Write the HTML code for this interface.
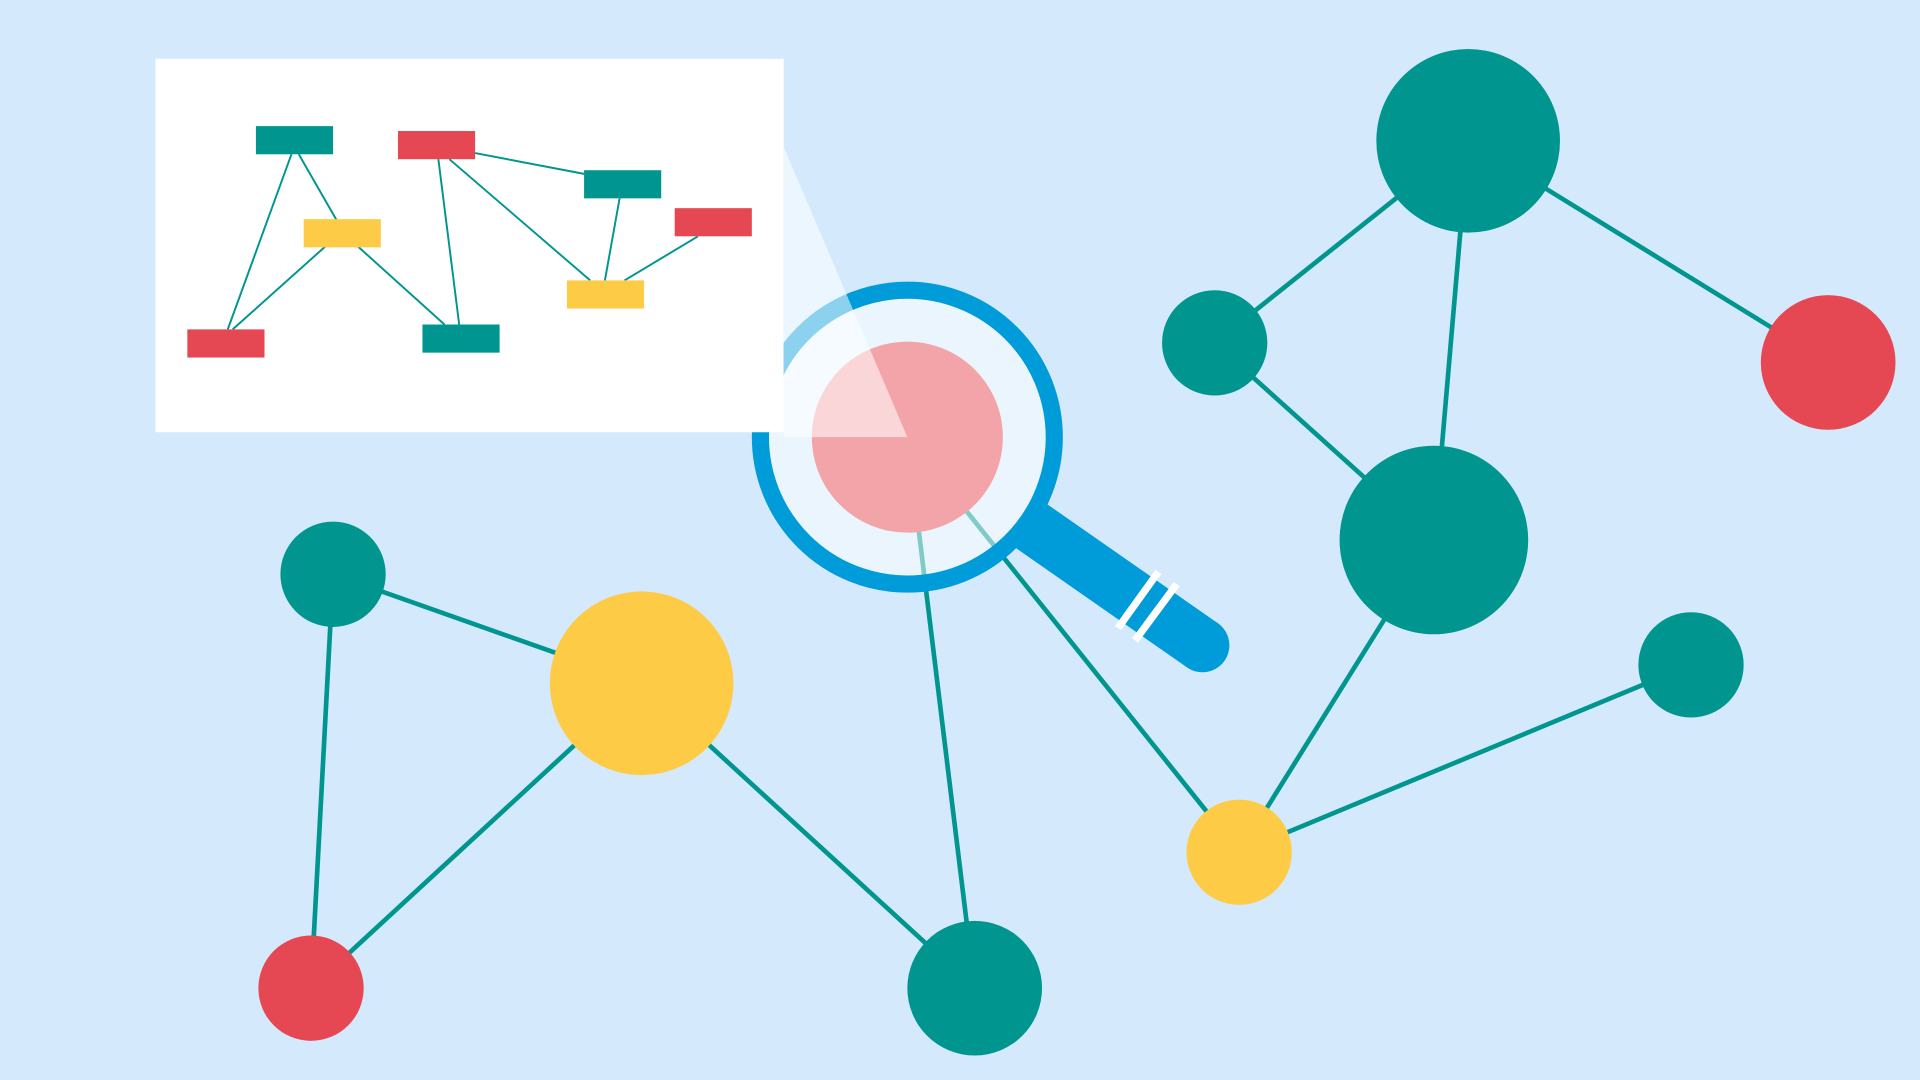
<!DOCTYPE html>
<html><head><meta charset="utf-8"><style>html,body{margin:0;padding:0;background:#d4eafc;}svg{display:block}</style></head>
<body>
<svg width="1920" height="1080" viewBox="0 0 1568 882" preserveAspectRatio="none" xmlns="http://www.w3.org/2000/svg">
<rect width="1568" height="882" fill="#d4eafc"/>
<g stroke="#00968f" stroke-width="3.8">
<line x1="1199" y1="115" x2="992" y2="280"/>
<line x1="1199" y1="115" x2="1493" y2="296"/>
<line x1="1199" y1="115" x2="1171" y2="441"/>
<line x1="992" y1="280" x2="1171" y2="441"/>
<line x1="1171" y1="441" x2="1012" y2="696"/>
<line x1="1012" y1="696" x2="1381" y2="543"/>
<line x1="1012" y1="696" x2="741" y2="357"/>
<line x1="796" y1="807" x2="741" y2="357"/>
<line x1="524" y1="558" x2="272" y2="469"/>
<line x1="524" y1="558" x2="254" y2="807"/>
<line x1="524" y1="558" x2="796" y2="807"/>
<line x1="272" y1="469" x2="254" y2="807"/>
</g>
<g>
<circle cx="1199" cy="115" r="75" fill="#00968f"/>
<circle cx="992" cy="280" r="43" fill="#00968f"/>
<circle cx="1493" cy="296" r="55" fill="#e54853"/>
<circle cx="1171" cy="441" r="77" fill="#00968f"/>
<circle cx="1381" cy="543" r="43" fill="#00968f"/>
<circle cx="1012" cy="696" r="43" fill="#fecb47"/>
<circle cx="796" cy="807" r="55" fill="#00968f"/>
<circle cx="524" cy="558" r="75" fill="#fecb47"/>
<circle cx="272" cy="469" r="43" fill="#00968f"/>
<circle cx="254" cy="807" r="43" fill="#e54853"/>
</g>
<!-- handle -->
<line x1="840" y1="428" x2="982" y2="527" stroke="#009bd9" stroke-width="44" stroke-linecap="butt"/>
<circle cx="982" cy="527" r="22" fill="#009bd9"/>
<line x1="913" y1="513" x2="946" y2="467" stroke="#fff" stroke-width="6"/>
<line x1="927" y1="523" x2="961" y2="477" stroke="#fff" stroke-width="6"/>
<!-- lens -->
<circle cx="741" cy="357" r="120" fill="#fff" fill-opacity="0.5" stroke="#fff" stroke-width="6"/>
<circle cx="741" cy="357" r="120" fill="none" stroke="#009bd9" stroke-width="14"/>
<circle cx="741" cy="357" r="78" fill="#f3a4a9"/>
<!-- panel -->
<rect x="127" y="48" width="513" height="305" fill="#fff"/>
<polygon points="640,120 741,357 640,357" fill="#fff" fill-opacity="0.55"/>
<g stroke="#00968f" stroke-width="1.6">
<line x1="238" y1="126" x2="186" y2="269"/>
<line x1="244" y1="126" x2="275" y2="180"/>
<line x1="266" y1="201" x2="190" y2="269"/>
<line x1="292" y1="201" x2="363" y2="265"/>
<line x1="358" y1="130" x2="375" y2="265"/>
<line x1="367" y1="130" x2="482" y2="229"/>
<line x1="388" y1="125" x2="477" y2="142"/>
<line x1="506" y1="162" x2="494" y2="229"/>
<line x1="570" y1="193" x2="510" y2="229"/>
</g>
<rect x="209" y="103" width="63" height="23" fill="#00968f"/>
<rect x="325" y="107" width="63" height="23" fill="#e54853"/>
<rect x="477" y="139" width="63" height="23" fill="#00968f"/>
<rect x="551" y="170" width="63" height="23" fill="#e54853"/>
<rect x="248" y="179" width="63" height="23" fill="#fecb47"/>
<rect x="463" y="229" width="63" height="23" fill="#fecb47"/>
<rect x="153" y="269" width="63" height="23" fill="#e54853"/>
<rect x="345" y="265" width="63" height="23" fill="#00968f"/>
</svg>
</body></html>
